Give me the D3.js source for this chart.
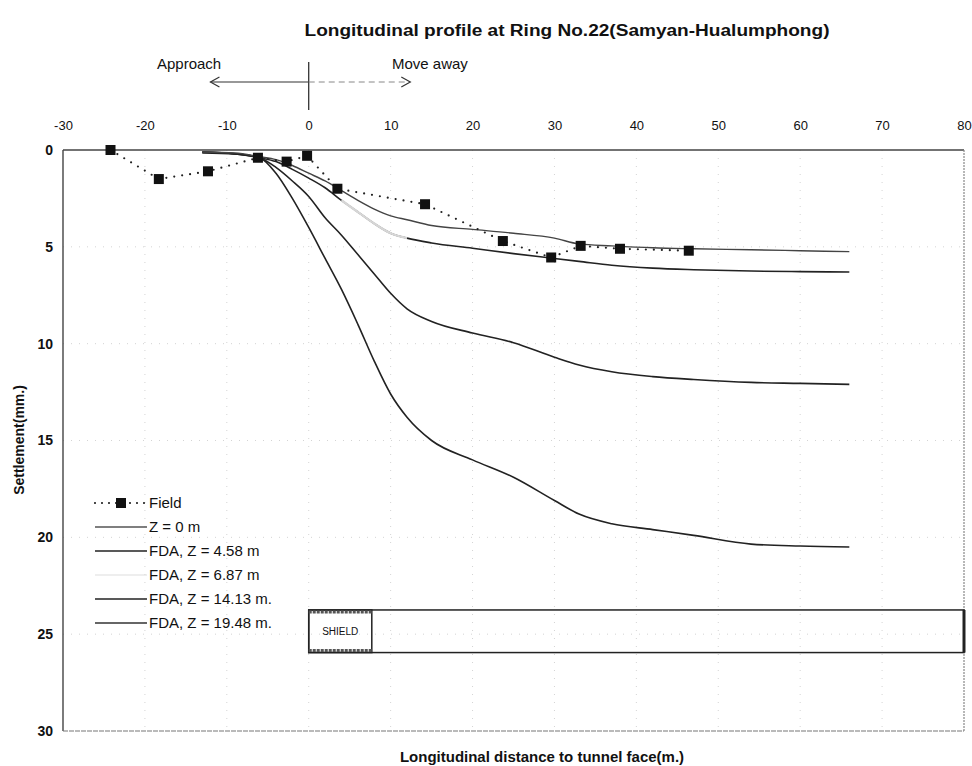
<!DOCTYPE html>
<html>
<head>
<meta charset="utf-8">
<script src="https://cdn.jsdelivr.net/npm/d3@7"></script>
<style>
  body { margin: 0; background: #fff; }
  svg text { font-family: "Liberation Sans", Arial, sans-serif; fill: #111; }
</style>
</head>
<body>
<div id="chart"></div>
<script>
// ticks
const xTicks = [-30, -20, -10, 0, 10, 20, 30, 40, 50, 60, 70, 80];
const yTicks = [0, 5, 10, 15, 20, 25, 30];

// field measurements
const fieldX = [-24.2, -18.3, -12.3, -6.2, -2.7, -0.2, 3.5, 14.2, 23.7, 29.6, 33.2, 38, 46.4];
const fieldY = [0, 1.5, 1.1, 0.4, 0.6, 0.3, 2.0, 2.8, 4.7, 5.55, 4.95, 5.1, 5.2];

// FDA model curves (shared x positions)
const modelX = [-13, -9, -6, -4, -2, 0, 2, 4, 6, 8, 10, 12, 15, 20, 25, 30, 33, 37, 42, 47, 54, 60, 66];
const z0 = [0.1, 0.15, 0.35, 0.5, 0.8, 1.2, 1.6, 2.1, 2.6, 3.05, 3.4, 3.6, 3.9, 4.1, 4.3, 4.55, 4.85, 4.95, 5.05, 5.1, 5.15, 5.2, 5.25];
const z458 = [0.15, 0.2, 0.4, 0.6, 1.0, 1.45, 1.95, 2.6, 3.2, 3.8, 4.3, 4.55, 4.8, 5.07, 5.35, 5.6, 5.75, 5.95, 6.1, 6.18, 6.25, 6.28, 6.3];
const z1413 = [0.1, 0.2, 0.4, 0.9, 1.6, 2.4, 3.5, 4.4, 5.4, 6.4, 7.4, 8.2, 8.85, 9.45, 9.95, 10.7, 11.1, 11.45, 11.7, 11.85, 12.0, 12.05, 12.1];
const z1948 = [0.1, 0.2, 0.4, 1.2, 2.5, 4.0, 5.6, 7.2, 9.0, 10.9, 12.6, 13.8, 15.0, 16.0, 16.9, 18.1, 18.8, 19.3, 19.6, 19.9, 20.35, 20.45, 20.5];
// Z = 6.87 m only shows as a faint segment
const z687X = [4, 6, 8, 10, 12];
const z687 = [2.6, 3.2, 3.8, 4.3, 4.55];

const legendLabels = ["Field", "Z = 0 m", "FDA, Z = 4.58 m", "FDA, Z = 6.87 m", "FDA, Z = 14.13 m.", "FDA, Z = 19.48 m."];

// shield outline
const shieldX = [0, 7.7, 80];
const shieldY = [23.75, 25.95];

const width = 972, height = 766;

const svg = d3.select("#chart").append("svg")
  .attr("width", width)
  .attr("height", height);

const x = d3.scaleLinear().domain([-30, 80]).range([63, 964]);
const y = d3.scaleLinear().domain([0, 30]).range([150, 731]);

// title
svg.append("text")
  .attr("x", 567).attr("y", 36)
  .attr("text-anchor", "middle")
  .attr("textLength", 525)
  .attr("lengthAdjust", "spacingAndGlyphs")
  .style("font-size", "16px").style("font-weight", "bold")
  .text("Longitudinal profile at Ring No.22(Samyan-Hualumphong)");

// approach / move away arrow
const arrowY = 82;
svg.append("line")
  .attr("x1", x(0)).attr("x2", x(0)).attr("y1", 62).attr("y2", 110)
  .attr("stroke", "#222").attr("stroke-width", 1.2);
svg.append("line")
  .attr("x1", x(-12)).attr("x2", x(0)).attr("y1", arrowY).attr("y2", arrowY)
  .attr("stroke", "#333").attr("stroke-width", 1.2);
svg.append("line")
  .attr("x1", x(0)).attr("x2", x(12.4)).attr("y1", arrowY).attr("y2", arrowY)
  .attr("stroke", "#888").attr("stroke-width", 1).attr("stroke-dasharray", "6,4");
svg.append("path")
  .attr("d", `M${x(-12) + 9},${arrowY - 5} L${x(-12)},${arrowY} L${x(-12) + 9},${arrowY + 5}`)
  .attr("fill", "none").attr("stroke", "#333").attr("stroke-width", 1.2);
svg.append("path")
  .attr("d", `M${x(12.4) - 9},${arrowY - 5} L${x(12.4)},${arrowY} L${x(12.4) - 9},${arrowY + 5}`)
  .attr("fill", "none").attr("stroke", "#333").attr("stroke-width", 1.2);
svg.append("text").attr("x", 157).attr("y", 69)
  .style("font-size", "15px").text("Approach");
svg.append("text").attr("x", 392).attr("y", 69)
  .style("font-size", "15px").text("Move away");

// grid
const grid = svg.append("g");
grid.selectAll(".vg").data(xTicks.filter(d => d > -30 && d < 80)).enter()
  .append("line")
  .attr("x1", d => x(d)).attr("x2", d => x(d))
  .attr("y1", y(0)).attr("y2", y(30))
  .attr("stroke", "#d4d4d4").attr("stroke-dasharray", "1,7");
grid.selectAll(".hg").data(yTicks.filter(d => d > 0 && d < 30)).enter()
  .append("line")
  .attr("x1", x(-30)).attr("x2", x(80))
  .attr("y1", d => y(d)).attr("y2", d => y(d))
  .attr("stroke", "#d4d4d4").attr("stroke-dasharray", "1,7");

// frame
svg.append("line").attr("x1", x(-30)).attr("x2", x(80)).attr("y1", y(0)).attr("y2", y(0))
  .attr("stroke", "#444").attr("stroke-width", 1.6);
svg.append("line").attr("x1", x(-30)).attr("x2", x(-30)).attr("y1", y(0)).attr("y2", y(30))
  .attr("stroke", "#444").attr("stroke-width", 1.4);
svg.append("line").attr("x1", x(-30)).attr("x2", x(80)).attr("y1", y(30)).attr("y2", y(30))
  .attr("stroke", "#777").attr("stroke-width", 1.2).attr("stroke-dasharray", "5,1");
svg.append("line").attr("x1", x(80)).attr("x2", x(80)).attr("y1", y(0)).attr("y2", y(30))
  .attr("stroke", "#888").attr("stroke-width", 1.2).attr("stroke-dasharray", "2,1");

// axes
const xAxis = svg.append("g")
  .attr("transform", `translate(0,${y(0)})`)
  .call(d3.axisTop(x).tickValues(xTicks).tickSize(0).tickPadding(20).tickFormat(d => String(d)));
xAxis.select(".domain").remove();
xAxis.selectAll("text").style("font-size", "13px").style("font-family", "Liberation Sans, Arial, sans-serif");

const yAxis = svg.append("g")
  .attr("transform", `translate(${x(-30)},0)`)
  .call(d3.axisLeft(y).tickValues(yTicks).tickSize(0).tickPadding(10).tickFormat(d => String(d)));
yAxis.select(".domain").remove();
yAxis.selectAll("text").style("font-size", "14px").style("font-weight", "bold")
  .style("font-family", "Liberation Sans, Arial, sans-serif");

svg.append("text")
  .attr("transform", `translate(24,440) rotate(-90)`)
  .attr("text-anchor", "middle")
  .style("font-size", "14px").style("font-weight", "bold")
  .text("Settlement(mm.)");
svg.append("text")
  .attr("x", 542).attr("y", 762)
  .attr("text-anchor", "middle")
  .style("font-size", "15px").style("font-weight", "bold")
  .text("Longitudinal distance to tunnel face(m.)");

// shield
svg.append("rect")
  .attr("x", x(shieldX[0])).attr("y", y(shieldY[0]))
  .attr("width", x(shieldX[2]) - x(shieldX[0]))
  .attr("height", y(shieldY[1]) - y(shieldY[0]))
  .attr("fill", "none").attr("stroke", "#222").attr("stroke-width", 1.5);
svg.append("line")
  .attr("x1", x(shieldX[2])).attr("x2", x(shieldX[2]))
  .attr("y1", y(shieldY[0])).attr("y2", y(shieldY[1]))
  .attr("stroke", "#222").attr("stroke-width", 3);
svg.append("rect")
  .attr("x", x(shieldX[0])).attr("y", y(shieldY[0]))
  .attr("width", x(shieldX[1]) - x(shieldX[0]))
  .attr("height", y(shieldY[1]) - y(shieldY[0]))
  .attr("fill", "none").attr("stroke", "#222").attr("stroke-width", 1.5);
[shieldY[0], shieldY[1]].forEach((v, i) => {
  svg.append("line")
    .attr("x1", x(shieldX[0])).attr("x2", x(shieldX[1]))
    .attr("y1", y(v) + (i === 0 ? 2 : -2)).attr("y2", y(v) + (i === 0 ? 2 : -2))
    .attr("stroke", "#555").attr("stroke-width", 3).attr("stroke-dasharray", "3,1");
});
svg.append("text")
  .attr("x", (x(shieldX[0]) + x(shieldX[1])) / 2)
  .attr("y", (y(shieldY[0]) + y(shieldY[1])) / 2 + 4)
  .attr("text-anchor", "middle")
  .style("font-size", "10px")
  .text("SHIELD");

// curves
const line = d3.line()
  .x(d => x(d[0]))
  .y(d => y(d[1]))
  .curve(d3.curveMonotoneX);

const series = [
  { xs: modelX, ys: z1948, color: "#222", w: 1.6 },
  { xs: modelX, ys: z1413, color: "#222", w: 1.6 },
  { xs: modelX, ys: z458, color: "#222", w: 1.6 },
  { xs: z687X, ys: z687, color: "#d6d6d6", w: 2.4 },
  { xs: modelX, ys: z0, color: "#444", w: 1.4 }
];

series.forEach(s => {
  svg.append("path")
    .datum(s.xs.map((v, i) => [v, s.ys[i]]))
    .attr("fill", "none")
    .attr("stroke", s.color)
    .attr("stroke-width", s.w)
    .attr("d", line);
});

// field
const fieldData = fieldX.map((v, i) => [v, fieldY[i]]);
svg.append("path")
  .datum(fieldData)
  .attr("fill", "none")
  .attr("stroke", "#222")
  .attr("stroke-width", 2.2)
  .attr("stroke-linecap", "round")
  .attr("stroke-dasharray", "0,8")
  .attr("d", d3.line().x(d => x(d[0])).y(d => y(d[1])));
svg.selectAll(".field-pt").data(fieldData).enter()
  .append("rect")
  .attr("class", "field-pt")
  .attr("x", d => x(d[0]) - 5)
  .attr("y", d => y(d[1]) - 5)
  .attr("width", 10).attr("height", 10)
  .attr("fill", "#111");

// legend
const legend = svg.append("g");
const legendStyles = [
  { color: "#222", dash: "0,7", w: 2.2, cap: "round" },
  { color: "#555", dash: null, w: 1.3 },
  { color: "#222", dash: null, w: 1.6 },
  { color: "#ddd", dash: null, w: 1.2 },
  { color: "#222", dash: null, w: 1.6 },
  { color: "#333", dash: null, w: 1.5 }
];
legendLabels.forEach((lab, i) => {
  const ly = 503 + i * 24;
  const st = legendStyles[i];
  legend.append("line")
    .attr("x1", 95).attr("x2", 147).attr("y1", ly).attr("y2", ly)
    .attr("stroke", st.color).attr("stroke-width", st.w)
    .attr("stroke-dasharray", st.dash)
    .attr("stroke-linecap", st.cap || "butt");
  if (i === 0) {
    legend.append("rect").attr("x", 116).attr("y", ly - 5)
      .attr("width", 10).attr("height", 10).attr("fill", "#111");
  }
  legend.append("text")
    .attr("x", 149).attr("y", ly + 5)
    .style("font-size", "15px")
    .text(lab);
});
</script>
</body>
</html>
